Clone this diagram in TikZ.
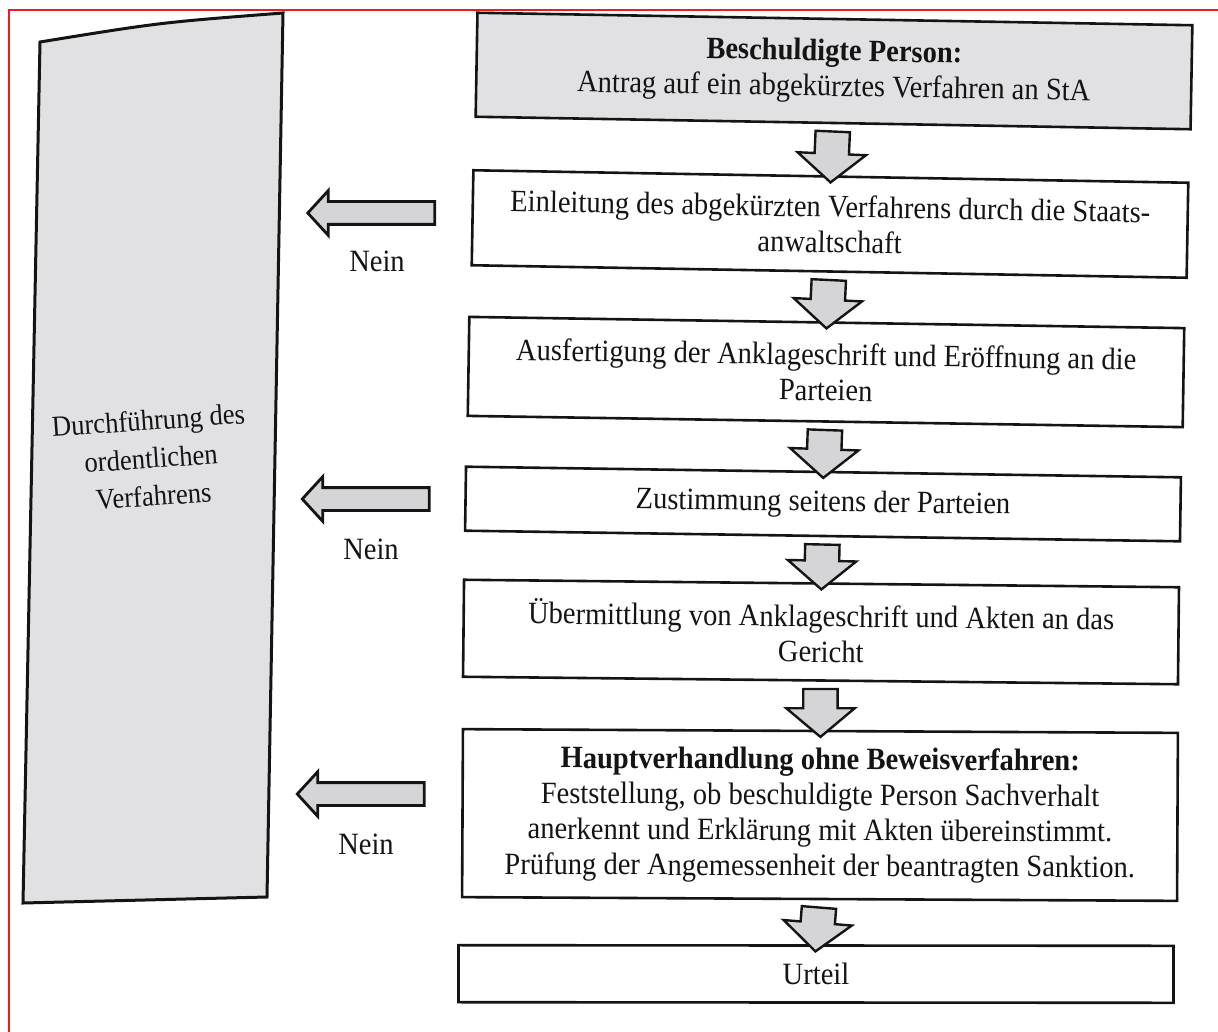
\documentclass[tikz,border=0pt]{standalone}
\usepackage{fontspec}
\setmainfont{Liberation Serif}[FakeStretch=0.92]
\usetikzlibrary{shapes.arrows,calc}
\definecolor{framered}{RGB}{236,28,36}
\definecolor{panelgray}{RGB}{225,225,228}
\definecolor{arrowgray}{RGB}{213,213,216}
\definecolor{inkblack}{RGB}{20,20,20}
\begin{document}
\begin{tikzpicture}[x=1pt,y=-1pt,
  every node/.style={text=inkblack},
  flowbox/.style={draw=inkblack, line width=2.6pt, minimum width=715pt,
    inner sep=0pt, align=center, font=\fontsize{31}{35.5}\selectfont},
  shadedbox/.style={flowbox, fill=panelgray},
  downarrow/.style={single arrow, draw=inkblack, fill=arrowgray,
    line width=2.4pt, inner xsep=0pt, inner ysep=16pt,
    single arrow head extend=17pt, single arrow tip angle=100},
  noarrow/.style={single arrow, draw=inkblack, fill=arrowgray,
    line width=2.8pt, minimum height=127pt, inner xsep=0pt, inner ysep=10pt,
    single arrow head extend=11pt, single arrow tip angle=95},
  neinlabel/.style={font=\fontsize{31}{35.5}\selectfont},
  paneltext/.style={align=center, font=\fontsize{29}{38}\selectfont},
]
\useasboundingbox (0,0) rectangle (1218,1032);

% red frame (left and top edges)
\draw[framered, line width=2pt] (9,1040) -- (9,10) -- (1230,10);

% left panel: regular procedure
\draw[draw=inkblack, line width=3pt, fill=panelgray, line join=miter]
  (40,42) .. controls (160,22.5) .. (283,13) -- (267,897) -- (23,903) -- cycle;
\node[paneltext, rotate=4] (ord) at (151,458)
  {Durchführung des\\ordentlichen\\Verfahrens};

% main flow
\node[shadedbox, minimum height=104pt, rotate=-1.0] (b1) at (834,71)
  {\textbf{Beschuldigte Person:}\\Antrag auf ein abgekürztes Verfahren an StA};
\node[flowbox, minimum height=95pt, rotate=-1.0] (b2) at (830,224)
  {Einleitung des abgekürzten Verfahrens durch die Staats-\\anwaltschaft};
\node[flowbox, minimum height=99pt, rotate=-0.9] (b3) at (826,372)
  {Ausfertigung der Anklageschrift und Eröffnung an die\\Parteien};
\node[flowbox, minimum height=64pt, rotate=-0.85] (b4) at (823,504)
  {Zustimmung seitens der Parteien};
\node[flowbox, minimum height=97pt, rotate=-0.6] (b5) at (821,632)
  {Übermittlung von Anklageschrift und Akten an das\\Gericht};
\node[flowbox, minimum height=168pt, rotate=-0.3] (b6) at (820,815)
  {\textbf{Hauptverhandlung ohne Beweisverfahren:}\\
   Feststellung, ob beschuldigte Person Sachverhalt\\
   anerkennt und Erklärung mit Akten übereinstimmt.\\
   Prüfung der Angemessenheit der beantragten Sanktion.};
\node[flowbox, minimum height=57pt, rotate=-0.05] (b7) at (816,974)
  {Urteil};

% block arrows between consecutive steps
\foreach \a/\b in {b1/b2, b2/b3, b3/b4, b4/b5, b5/b6, b6/b7}
  \path let \p1=(\a.south), \p2=(\b.north),
            \n1={veclen(\x2-\x1,\y2-\y1)}, \n2={atan2(\y2-\y1,\x2-\x1)} in
    node[downarrow, minimum height=\n1, rotate=\n2] (\a-\b)
      at ($(\p1)!0.5!(\p2)$) {};

% "Nein" exits to the regular procedure
\node[noarrow, rotate=180] (n1) at (376.5,213) {};
\node[noarrow, rotate=180] (n2) at (371,499) {};
\node[noarrow, rotate=180] (n3) at (366,794) {};
\node[neinlabel] (l1) at (377,261) {Nein};
\node[neinlabel] (l2) at (371,549) {Nein};
\node[neinlabel] (l3) at (366,844) {Nein};
\end{tikzpicture}
\end{document}
